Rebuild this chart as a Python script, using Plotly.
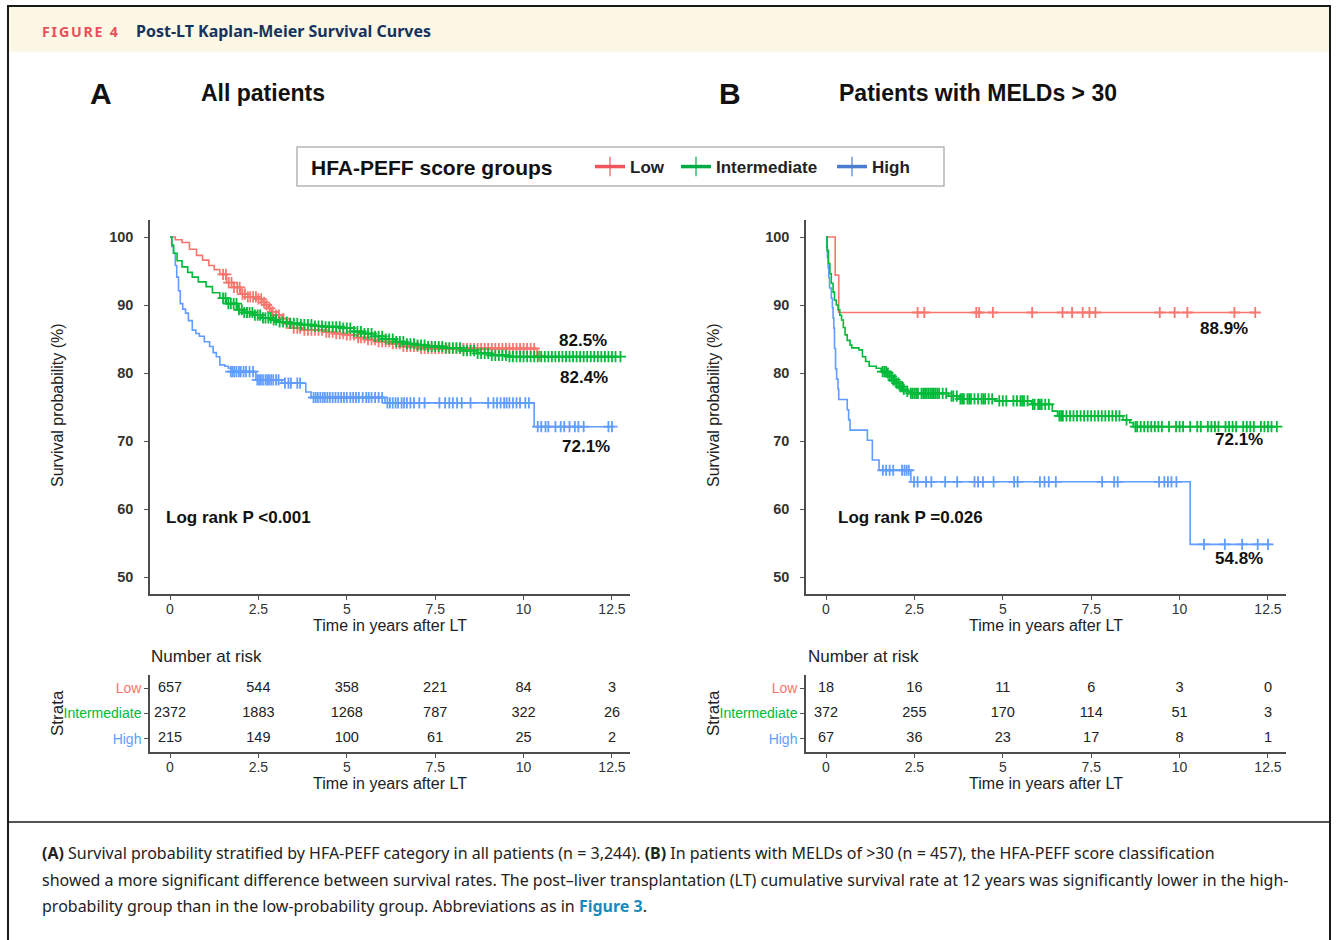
import numpy as np
import plotly.graph_objects as go

W, H = 1336, 940

# ---------------- data ----------------
GROUPS = ["Low", "Intermediate", "High"]
COLORS = {"Low": "#F8766D", "Intermediate": "#00BA38", "High": "#619CFF"}
LEGEND_COLORS = {"Low": "#F0555C", "Intermediate": "#00AA44", "High": "#4A7CD0"}

RISK_TIMES = [0, 2.5, 5, 7.5, 10, 12.5]
TICK_TEXT = ["0", "2.5", "5", "7.5", "10", "12.5"]
Y_TICKS = [50, 60, 70, 80, 90, 100]

# Panel A: all patients
LOW_A_T = [0, 0.15, 0.34, 0.55, 0.75, 0.92, 1.1, 1.25, 1.41, 1.6, 1.8, 2.0, 2.2, 2.48, 2.6,
           2.68, 2.78, 2.87, 3.0, 3.16, 3.3, 3.45, 3.8, 4.33, 4.7, 5.0, 5.3, 5.59, 5.9, 6.27,
           6.6, 7.05, 10.38]
LOW_A_S = [100, 99.6, 99.2, 98.2, 97.3, 96.6, 95.8, 95.2, 94.5, 93.3, 92.6, 91.6, 91.2, 90.9, 90.4,
           90.0, 89.5, 89.0, 88.5, 88.0, 87.3, 86.6, 86.3, 86.0, 85.8, 85.6, 85.2, 84.9, 84.6, 84.3,
           83.9, 83.6, 82.5]
LOW_A_END = 10.45
LOW_A_CENS = [1.5, 1.58, 1.66, 1.74, 1.81, 1.9, 1.97, 2.05, 2.12, 2.2, 2.27, 2.35, 2.43, 2.5, 2.58,
              2.66, 2.73, 2.82, 2.9, 3.0, 3.08, 3.2, 3.3, 3.38, 3.5, 3.6, 3.68, 3.8, 3.9, 4.0,
              4.1, 4.2, 4.3, 4.42, 4.5, 4.6, 4.7, 4.8, 4.9, 5.0, 5.1, 5.2, 5.32, 5.4, 5.5,
              5.6, 5.7, 5.8, 5.9, 6.0, 6.1, 6.2, 6.3, 6.4, 6.5, 6.6, 6.7, 6.8, 6.9, 7.0,
              7.1, 7.2, 7.3, 7.4, 7.5, 7.6, 7.7, 7.8, 7.9, 8.0, 8.1, 8.2, 8.3, 8.4, 8.5,
              8.6, 8.7, 8.8, 8.9, 9.0, 9.1, 9.2, 9.3, 9.4, 9.5, 9.6, 9.7, 9.8, 9.9, 10.0,
              10.1, 10.2, 10.3, 10.45]

INT_A_T = [0, 0.05, 0.1, 0.2, 0.34, 0.5, 0.63, 0.8, 1.02, 1.2, 1.41, 1.6, 1.9, 2.1, 2.38, 2.6,
           2.87, 3.1, 3.36, 3.7, 4.04, 4.4, 4.82, 5.2, 5.5, 5.79, 6.1, 6.37, 6.7, 6.96, 7.3,
           7.73, 8.22, 8.7, 9.1, 9.58]
INT_A_S = [100, 98.8, 97.6, 96.5, 95.6, 94.8, 94.1, 93.4, 92.7, 91.8, 91.0, 90.2, 89.3, 88.9, 88.5, 88.1,
           87.8, 87.5, 87.3, 87.1, 86.9, 86.8, 86.6, 86.1, 85.8, 85.4, 85.0, 84.6, 84.3, 84.1, 83.9,
           83.7, 83.3, 82.9, 82.6, 82.4]
INT_A_END = 12.74
INT_A_CENS = [1.5, 1.57, 1.65, 1.72, 1.8, 1.88, 1.95, 2.03, 2.1, 2.18, 2.25, 2.33, 2.4, 2.48, 2.55,
              2.63, 2.7, 2.78, 2.85, 2.93, 3.0, 3.1, 3.2, 3.3, 3.4, 3.5, 3.6, 3.7, 3.8, 3.9,
              4.0, 4.1, 4.2, 4.3, 4.4, 4.5, 4.6, 4.7, 4.8, 4.9, 5.0, 5.1, 5.2, 5.3, 5.4,
              5.5, 5.6, 5.7, 5.8, 5.9, 6.0, 6.1, 6.2, 6.3, 6.4, 6.5, 6.6, 6.7, 6.8, 6.9,
              7.0, 7.1, 7.2, 7.3, 7.4, 7.5, 7.6, 7.7, 7.8, 7.9, 8.0, 8.1, 8.2, 8.3, 8.4,
              8.5, 8.6, 8.7, 8.8, 8.9, 9.0, 9.1, 9.2, 9.3, 9.4, 9.5, 9.6, 9.7, 9.8, 9.9,
              10.0, 10.1, 10.2, 10.3, 10.4, 10.5, 10.6, 10.7, 10.8, 10.9, 11.0, 11.1, 11.2, 11.3, 11.4,
              11.5, 11.6, 11.7, 11.8, 11.9, 12.0, 12.1, 12.2, 12.3, 12.4, 12.5, 12.6, 12.74]

HIGH_A_T = [0, 0.05, 0.1, 0.15, 0.19, 0.24, 0.29, 0.36, 0.44, 0.52, 0.63, 0.73, 0.83, 0.97,
            1.12, 1.22, 1.31, 1.41, 1.55, 1.65, 1.72, 2.43, 3.16, 3.84, 3.99, 6.08, 10.3]
HIGH_A_S = [100, 98.6, 97.6, 95.8, 94.1, 92.1, 90.2, 89.4, 88.8, 87.7, 86.3, 85.8, 85.4, 84.6,
            83.9, 83.0, 82.4, 81.2, 81.0, 80.7, 80.2, 79.0, 78.5, 77.2, 76.4, 75.6, 72.1]
HIGH_A_END = 12.5
HIGH_A_CENS = [1.72, 1.77, 1.82, 1.88, 1.95, 2.0, 2.08, 2.15, 2.25, 2.35,
               2.47, 2.52, 2.57, 2.63, 2.7, 2.75, 2.8, 2.86, 2.92, 3.0, 3.07,
               3.25, 3.35, 3.42, 3.6, 3.68,
               4.06, 4.12, 4.18, 4.25, 4.32, 4.38, 4.45, 4.52, 4.6, 4.68, 4.76, 4.84, 4.92, 5.0,
               5.1, 5.18, 5.26, 5.34, 5.45, 5.55, 5.62, 5.7, 5.8, 5.9, 6.0,
               6.15, 6.22, 6.3, 6.38, 6.45, 6.55, 6.62, 6.7, 6.8, 6.9, 7.05, 7.2,
               7.62, 7.78, 7.9, 8.0, 8.12, 8.25, 8.5, 9.0, 9.15, 9.25, 9.35, 9.45, 9.52, 9.6,
               9.7, 9.8, 9.9, 10.05, 10.15,
               10.4, 10.5, 10.62, 10.7, 10.9, 11.05, 11.15, 11.3, 11.45, 11.55, 11.7, 12.4, 12.5]

# Panel B: patients with MELD > 30
LOW_B_T = [0, 0.26, 0.36]
LOW_B_S = [100, 94.4, 88.9]
LOW_B_END = 12.16
LOW_B_CENS = [2.59, 2.78, 4.25, 4.33, 4.72, 5.83, 6.69, 6.96, 7.26, 7.45, 7.62, 9.44, 9.86,
              10.22, 11.55, 12.14]

INT_B_T = [0, 0.03, 0.07, 0.11, 0.15, 0.2, 0.24, 0.29, 0.34, 0.39, 0.44, 0.49, 0.54, 0.6,
           0.68, 0.73, 0.93, 1.03, 1.12, 1.22, 1.42, 1.56, 1.71, 1.8, 1.9, 2.0, 2.1, 2.18,
           2.25, 2.39, 3.47, 3.76, 4.79, 5.81, 6.4, 6.55, 8.4, 8.59, 8.69]
INT_B_S = [100, 98.0, 96.1, 94.6, 93.2, 91.9, 90.7, 90.0, 89.3, 88.5, 87.8, 86.7, 85.6, 84.8,
           84.1, 83.7, 83.4, 82.4, 81.7, 81.0, 80.7, 80.2, 80.0, 79.5, 79.0, 78.5, 78.0, 77.6,
           77.3, 77.0, 76.6, 76.2, 75.9, 75.4, 74.4, 73.7, 73.1, 72.7, 72.1]
INT_B_END = 12.75
INT_B_CENS = [1.6, 1.65, 1.7, 1.75, 1.8, 1.85, 1.9, 1.95, 2.0, 2.05, 2.1, 2.15, 2.2,
              2.3, 2.4, 2.45, 2.5, 2.55, 2.6, 2.7, 2.75, 2.8, 2.85, 2.9, 2.95, 3.0, 3.05,
              3.1, 3.15, 3.2, 3.3, 3.4, 3.55, 3.6, 3.7, 3.8, 3.85, 3.9, 4.0, 4.05, 4.1,
              4.2, 4.3, 4.4, 4.45, 4.5, 4.6, 4.7, 4.9, 5.0, 5.1, 5.3, 5.4, 5.5, 5.55,
              5.6, 5.7, 5.85, 5.9, 6.0, 6.05, 6.1, 6.2, 6.3, 6.6, 6.65, 6.7, 6.8, 6.9,
              7.0, 7.1, 7.2, 7.3, 7.4, 7.5, 7.6, 7.7, 7.8, 7.9, 8.0, 8.1, 8.2, 8.3, 8.5,
              8.75, 8.8, 8.9, 9.0, 9.1, 9.2, 9.3, 9.4, 9.5, 9.7, 9.9, 10.0, 10.1, 10.3,
              10.5, 10.6, 10.8, 10.9, 11.0, 11.1, 11.3, 11.4, 11.5, 11.6, 11.8, 11.9, 12.0,
              12.1, 12.3, 12.4, 12.5, 12.6, 12.75]

HIGH_B_T = [0, 0.02, 0.04, 0.06, 0.08, 0.1, 0.15, 0.18, 0.2, 0.22, 0.24, 0.27, 0.3, 0.34,
            0.36, 0.6, 0.64, 0.68, 1.17, 1.31, 1.5, 2.4, 10.3]
HIGH_B_S = [100, 98.5, 97.0, 95.5, 94.0, 92.5, 91.0, 89.6, 88.1, 86.6, 83.6, 80.6, 79.1, 77.6,
            76.1, 74.6, 73.1, 71.6, 70.1, 67.2, 65.7, 64.0, 54.8]
HIGH_B_END = 12.58
HIGH_B_CENS = [1.61, 1.7, 1.8, 1.9, 2.15, 2.22, 2.28, 2.34,
               2.49, 2.59, 2.83, 2.98, 3.37, 3.71, 4.2, 4.3, 4.44, 4.74, 5.32, 5.42, 6.05,
               6.18, 6.3, 6.5, 7.81, 8.15, 8.25, 9.42, 9.57, 9.67, 9.77, 9.91,
               10.69, 11.28, 11.77, 12.21, 12.5]

RISK_A = {"Low": [657, 544, 358, 221, 84, 3],
          "Intermediate": [2372, 1883, 1268, 787, 322, 26],
          "High": [215, 149, 100, 61, 25, 2]}
RISK_B = {"Low": [18, 16, 11, 6, 3, 0],
          "Intermediate": [372, 255, 170, 114, 51, 3],
          "High": [67, 36, 23, 17, 8, 1]}

CURVES_A = {"Low": (LOW_A_T, LOW_A_S, LOW_A_END, LOW_A_CENS),
            "Intermediate": (INT_A_T, INT_A_S, INT_A_END, INT_A_CENS),
            "High": (HIGH_A_T, HIGH_A_S, HIGH_A_END, HIGH_A_CENS)}
CURVES_B = {"Low": (LOW_B_T, LOW_B_S, LOW_B_END, LOW_B_CENS),
            "Intermediate": (INT_B_T, INT_B_S, INT_B_END, INT_B_CENS),
            "High": (HIGH_B_T, HIGH_B_S, HIGH_B_END, HIGH_B_CENS)}

# ---------------- helpers ----------------
FONT = "Liberation Sans, Arial, sans-serif"
PUB_FONT = "Noto Sans, Open Sans, sans-serif"
INK = "#222222"
AXIS = "#4d4d4d"


def fx(p):
    return p / W


def fy(p):
    return 1 - p / H


X_RANGE = [-0.566, 13.01]
Y_RANGE = [47.5, 102.5]

fig = go.Figure()


def add_curves(curves, xa, ya):
    for g in ["Low", "High", "Intermediate"]:
        t, s, end, cens = curves[g]
        fig.add_trace(go.Scatter(
            x=list(t) + [end], y=list(s) + [s[-1]], mode="lines", line_shape="hv",
            line=dict(color=COLORS[g], width=1.6), xaxis=xa, yaxis=ya,
            showlegend=False, hoverinfo="skip"))
        idx = np.searchsorted(np.asarray(t), np.asarray(cens), side="right") - 1
        fig.add_trace(go.Scatter(
            x=cens, y=np.asarray(s)[idx], mode="markers",
            marker=dict(symbol="cross-thin", size=8, line=dict(color=COLORS[g], width=1.8)),
            xaxis=xa, yaxis=ya, showlegend=False, hoverinfo="skip"))


add_curves(CURVES_A, "x", "y")
add_curves(CURVES_B, "x2", "y2")

# legend entries, one small legend per group inside a shared box
LEGEND_NAMES = {"Low": "legend", "Intermediate": "legend2", "High": "legend3"}
LEGEND_X = {"Low": 590, "Intermediate": 676, "High": 832}
for g in GROUPS:
    fig.add_trace(go.Scatter(
        x=[None], y=[None], mode="lines+markers", name=g, legend=LEGEND_NAMES[g],
        line=dict(color=LEGEND_COLORS[g], width=3.5),
        marker=dict(symbol="line-ns", size=14, line=dict(color=LEGEND_COLORS[g], width=1.2)),
        xaxis="x", yaxis="y", showlegend=True))

# risk tables
ROW_Y = {"Low": 3, "Intermediate": 2, "High": 1}
for risk, xa, ya in [(RISK_A, "x3", "y3"), (RISK_B, "x4", "y4")]:
    for g in GROUPS:
        fig.add_trace(go.Scatter(
            x=RISK_TIMES, y=[ROW_Y[g]] * len(RISK_TIMES), mode="text",
            text=[str(v) for v in risk[g]], textposition="middle center",
            textfont=dict(family=FONT, size=14.5, color=INK),
            xaxis=xa, yaxis=ya, showlegend=False, hoverinfo="skip"))

axis_common = dict(showline=True, linecolor=AXIS, linewidth=1.5, ticks="outside",
                   ticklen=4, tickcolor=AXIS, tickwidth=1.2, showgrid=False, zeroline=False,
                   fixedrange=True)
xcommon = dict(axis_common, range=X_RANGE, tickvals=RISK_TIMES, ticktext=TICK_TEXT,
               tickfont=dict(family=FONT, size=14, color="#333333"), ticklabelstandoff=-3,
               title=dict(text="Time in years after LT", font=dict(family=FONT, size=16, color=INK),
                          standoff=1))
ymain = dict(axis_common, range=Y_RANGE, tickvals=Y_TICKS, ticktext=[str(v) for v in Y_TICKS],
             tickfont=dict(family=FONT, size=14.5, color="#333333", weight="bold"),
             ticklabelstandoff=8)

risk_ticktext = ['<span style="color:%s">%s</span>' % (COLORS[g], g) for g in ["High", "Intermediate", "Low"]]
yrisk = dict(axis_common, range=[0.48, 3.52], tickvals=[1, 2, 3], ticktext=risk_ticktext,
             tickfont=dict(family=FONT, size=14))

XA = [fx(150), fx(630)]
XB = [fx(806), fx(1286)]
YMAIN = [fy(594), fy(220)]
YRISK = [fy(752), fy(675)]

legend_common = dict(orientation="h", yanchor="middle", xanchor="left", y=fy(167),
                     bgcolor="rgba(0,0,0,0)", borderwidth=0,
                     font=dict(family=FONT, size=17, color=INK, weight="bold"),
                     itemwidth=30)

fig.update_layout(
    width=W, height=H, margin=dict(l=0, r=0, t=0, b=0),
    paper_bgcolor="white", plot_bgcolor="white",
    xaxis=dict(xcommon, domain=XA, anchor="y"),
    yaxis=dict(ymain, domain=YMAIN, anchor="x"),
    xaxis2=dict(xcommon, domain=XB, anchor="y2"),
    yaxis2=dict(ymain, domain=YMAIN, anchor="x2"),
    xaxis3=dict(xcommon, domain=XA, anchor="y3"),
    yaxis3=dict(yrisk, domain=YRISK, anchor="x3"),
    xaxis4=dict(xcommon, domain=XB, anchor="y4"),
    yaxis4=dict(yrisk, domain=YRISK, anchor="x4"),
    legend=dict(legend_common, x=fx(LEGEND_X["Low"])),
    legend2=dict(legend_common, x=fx(LEGEND_X["Intermediate"])),
    legend3=dict(legend_common, x=fx(LEGEND_X["High"])),
)

# frame, header band, legend box and caption separator
shapes = [
    dict(type="rect", xref="paper", yref="paper", x0=fx(8), x1=fx(1330), y0=fy(52), y1=fy(6),
         fillcolor="#FDF7E6", line=dict(width=0), layer="below"),
    dict(type="line", xref="paper", yref="paper", x0=fx(7), x1=fx(1331), y0=fy(6), y1=fy(6),
         line=dict(color="#1a1a1a", width=2)),
    dict(type="line", xref="paper", yref="paper", x0=fx(8), x1=fx(8), y0=fy(6), y1=fy(945),
         line=dict(color="#1a1a1a", width=2)),
    dict(type="line", xref="paper", yref="paper", x0=fx(1330), x1=fx(1330), y0=fy(6), y1=fy(945),
         line=dict(color="#1a1a1a", width=2)),
    dict(type="line", xref="paper", yref="paper", x0=fx(8), x1=fx(1330), y0=fy(822), y1=fy(822),
         line=dict(color="#1a1a1a", width=1.5)),
    dict(type="rect", xref="paper", yref="paper", x0=fx(297), x1=fx(944), y0=fy(186), y1=fy(147),
         fillcolor="white", line=dict(color="#b5b5b5", width=1.5), layer="below"),
]
fig.update_layout(shapes=shapes)

ann = []


def text(x, y, s, size, color=INK, anchor="left", bold=False, family=FONT, angle=0, valign="middle"):
    ann.append(dict(x=fx(x), y=fy(y), xref="paper", yref="paper", text=s, showarrow=False,
                    xanchor=anchor, yanchor=valign, textangle=angle,
                    font=dict(family=family, size=size, color=color,
                              weight="bold" if bold else "normal")))


# header
text(40, 31, '<span style="letter-spacing:1.8px">FIGURE 4</span>', 14.2, color="#E8505B", bold=True, family=PUB_FONT)
text(134, 31, "Post-LT Kaplan-Meier Survival Curves", 16, color="#14345F", bold=True, family=PUB_FONT)

# panel headings
text(101, 93, "A", 30, color="#111111", anchor="center", bold=True)
text(199, 93, "All patients", 23, color="#111111", bold=True)
text(730, 93, "B", 30, color="#111111", anchor="center", bold=True)
text(837, 93, "Patients with MELDs > 30", 23, color="#111111", bold=True)

# legend title
text(309, 167, "HFA-PEFF score groups", 21, color="#111111", bold=True)

# axis titles and table headings
for x0 in (57, 713):
    text(x0, 405, "Survival probability (%)", 16, anchor="center", angle=-90)
    text(x0, 713, "Strata", 17, anchor="center", angle=-90)
text(149, 656, "Number at risk", 17)
text(806, 656, "Number at risk", 17)

# end-of-follow-up survival labels, taken from the curve values
for xa, ya, g, curves, lx, dy in [
        ("x", "y", "Low", CURVES_A, 11.68, 2.35), ("x", "y", "Intermediate", CURVES_A, 11.71, -3.0),
        ("x", "y", "High", CURVES_A, 11.76, -2.85),
        ("x2", "y2", "Low", CURVES_B, 11.27, -2.3), ("x2", "y2", "Intermediate", CURVES_B, 11.67, -1.95),
        ("x2", "y2", "High", CURVES_B, 11.67, -2.15)]:
    s_end = curves[g][1][-1]
    ann.append(dict(x=lx, y=s_end + dy, xref=xa, yref=ya, text="%.1f%%" % s_end,
                    showarrow=False, xanchor="center", yanchor="middle",
                    font=dict(family=FONT, size=17, color="#111111", weight="bold")))

text(164, 517, "Log rank P <0.001", 17, color="#111111", bold=True)
text(836, 517, "Log rank P =0.026", 17, color="#111111", bold=True)

# caption
CAP = [
    "<b>(A)</b> Survival probability stratified by HFA-PEFF category in all patients (n = 3,244). "
    "<b>(B)</b> In patients with MELDs of &gt;30 (n = 457), the HFA-PEFF score classification",
    "showed a more significant difference between survival rates. The post–liver transplantation (LT) "
    "cumulative survival rate at 12 years was significantly lower in the high-",
    'probability group than in the low-probability group. Abbreviations as in '
    '<b><span style="color:#1B8AB8">Figure 3</span></b>.',
]
for i, line in enumerate(CAP):
    text(40, 853 + i * 26.5, line, 16, color="#222222", family=PUB_FONT)

fig.update_layout(annotations=ann)
fig.write_html("out.html")
